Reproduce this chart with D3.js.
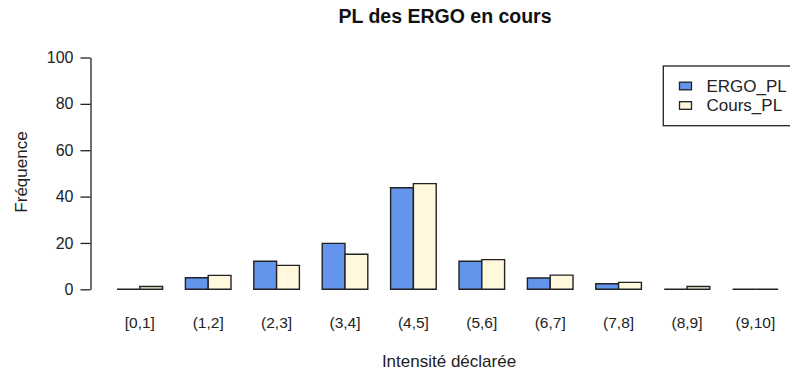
<!DOCTYPE html>
<html>
<head>
<meta charset="utf-8">
<script src="https://cdn.jsdelivr.net/npm/d3@7"></script>
<style>
  html, body { margin: 0; padding: 0; background: #fff; }
  svg { display: block; font-family: "Liberation Sans", Arial, sans-serif; }
</style>
</head>
<body>
<svg id="chart" width="790" height="374"></svg>
<script>
// Intensity bins and percentage of answers per bin
const categories = ["[0,1]", "(1,2]", "(2,3]", "(3,4]", "(4,5]", "(5,6]", "(6,7]", "(7,8]", "(8,9]", "(9,10]"];
const seriesNames = ["ERGO_PL", "Cours_PL"];
const ergoValues = [0, 5, 12.1, 19.8, 43.8, 12.1, 4.9, 2.4, 0, 0];
const coursValues = [1.2, 6.0, 10.3, 15.1, 45.6, 12.8, 6.1, 3.0, 1.2, 0];
const seriesColors = ["#6495ED", "#FFF8DC"];
const yTicks = [0, 20, 40, 60, 80, 100];

const svg = d3.select("#chart");

// Plot area: bars occupy units 1..30, three units per group (two bars + one gap)
const unit = 22.8;
const barsStart = 94.2;
const y = d3.scaleLinear().domain([0, 100]).range([289.3, 57.5]);

const x0 = d3.scaleBand()
  .domain(categories)
  .range([barsStart, barsStart + 30 * unit])
  .paddingInner(1 / 3)
  .paddingOuter(1 / 6)
  .align(1);

const x1 = d3.scaleBand()
  .domain(seriesNames)
  .range([0, x0.bandwidth()])
  .padding(0);

const rows = categories.map((c, i) => ({
  cat: c,
  vals: [
    { key: seriesNames[0], v: ergoValues[i], color: seriesColors[0] },
    { key: seriesNames[1], v: coursValues[i], color: seriesColors[1] }
  ]
}));

// Bars drawn as closed paths so that empty bins still show their baseline
const groups = svg.append("g").selectAll("g")
  .data(rows).join("g")
  .attr("transform", d => `translate(${x0(d.cat)},0)`);

groups.selectAll("path")
  .data(d => d.vals).join("path")
  .attr("d", d => {
    const xl = x1(d.key), xr = xl + x1.bandwidth();
    const p = d3.path();
    p.moveTo(xl, y(0));
    p.lineTo(xl, y(d.v));
    p.lineTo(xr, y(d.v));
    p.lineTo(xr, y(0));
    p.closePath();
    return p.toString();
  })
  .attr("fill", d => d.color)
  .attr("stroke", "#222")
  .attr("stroke-width", 1.4);

// Category labels under each group
svg.append("g").selectAll("text")
  .data(categories).join("text")
  .attr("x", d => x0(d) + x0.bandwidth() / 2)
  .attr("y", 327.5)
  .attr("text-anchor", "middle")
  .attr("font-size", 15.5)
  .attr("fill", "#222")
  .text(d => d);

// Y axis
const yAxis = d3.axisLeft(y).tickValues(yTicks).tickSize(10).tickPadding(7).tickSizeOuter(0);
const ya = svg.append("g").attr("transform", "translate(90.5,0)").call(yAxis);
ya.select(".domain").attr("stroke", "#222").attr("stroke-width", 1.3);
ya.selectAll(".tick line").attr("stroke", "#222").attr("stroke-width", 1.3);
ya.selectAll(".tick text")
  .attr("font-size", 16)
  .attr("font-family", "Liberation Sans, Arial, sans-serif")
  .attr("fill", "#222");

// Title and axis titles
svg.append("text")
  .attr("x", 445).attr("y", 23)
  .attr("text-anchor", "middle")
  .attr("font-size", 19.5)
  .attr("font-weight", "bold")
  .attr("fill", "#111")
  .text("PL des ERGO en cours");

svg.append("text")
  .attr("x", 449).attr("y", 366.5)
  .attr("text-anchor", "middle")
  .attr("font-size", 17)
  .attr("fill", "#222")
  .text("Intensité déclarée");

svg.append("text")
  .attr("transform", "translate(26.5,172) rotate(-90)")
  .attr("text-anchor", "middle")
  .attr("font-size", 17)
  .attr("fill", "#222")
  .text("Fréquence");

// Legend
const legend = svg.append("g");
legend.append("rect")
  .attr("x", 663.3).attr("y", 66)
  .attr("width", 140).attr("height", 59.7)
  .attr("fill", "#fff")
  .attr("stroke", "#222")
  .attr("stroke-width", 1.3);

const items = legend.selectAll("g.item")
  .data(seriesNames).join("g")
  .attr("class", "item")
  .attr("transform", (d, i) => `translate(0,${86 + i * 19.5})`);

items.append("rect")
  .attr("x", 679.5).attr("y", -3.8)
  .attr("width", 12).attr("height", 7.6)
  .attr("fill", (d, i) => seriesColors[i])
  .attr("stroke", "#222")
  .attr("stroke-width", 1.3);

items.append("text")
  .attr("x", 706.5).attr("y", 5.7)
  .attr("font-size", 17)
  .attr("fill", "#222")
  .text(d => d);
</script>
</body>
</html>
